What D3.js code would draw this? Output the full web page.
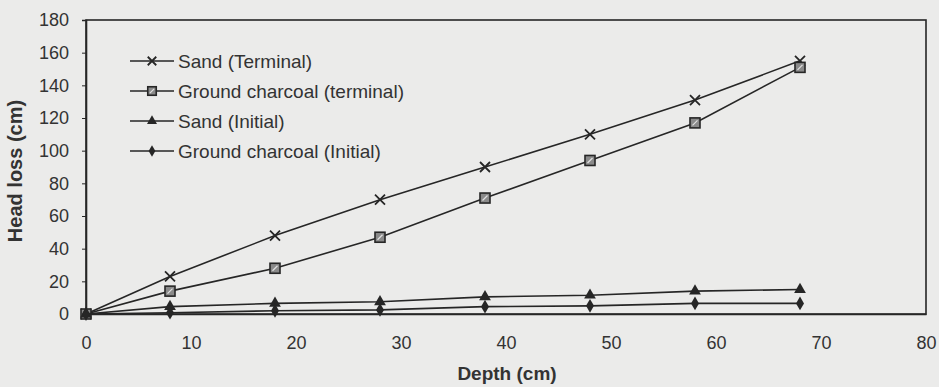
<!DOCTYPE html>
<html>
<head>
<meta charset="utf-8">
<script src="https://cdn.jsdelivr.net/npm/d3@7"></script>
<style>
  html, body { margin: 0; padding: 0; background: #ebebea; }
  svg { display: block; }
  text { font-family: "Liberation Sans", Arial, sans-serif; fill: #333; }
</style>
</head>
<body>
<svg id="chart" width="939" height="387"></svg>
<script>
// Depth of sampling points (cm)
const depths = [0, 8, 18, 28, 38, 48, 58, 68];

// Head loss (cm) per series
const sandTerminal     = [0, 23, 48, 70, 90, 110, 131, 155];
const charcoalTerminal = [0, 14, 28, 47, 71, 94, 117, 151];
const sandInitial      = [0, 4.5, 6.5, 7.5, 10.5, 11.5, 14, 15];
const charcoalInitial  = [0, 0.8, 2, 2.5, 4.5, 5, 6.5, 6.5];

const seriesNames = [
  "Sand (Terminal)",
  "Ground charcoal (terminal)",
  "Sand (Initial)",
  "Ground charcoal (Initial)"
];
const seriesValues = [sandTerminal, charcoalTerminal, sandInitial, charcoalInitial];
const seriesMarkers = ["cross", "square", "triangle", "diamond"];

const xTicks = [0, 10, 20, 30, 40, 50, 60, 70, 80];
const yTicks = [0, 20, 40, 60, 80, 100, 120, 140, 160, 180];

const svg = d3.select("#chart");
const plot = { left: 86, right: 926, top: 20, bottom: 314 };

const x = d3.scaleLinear().domain([0, 80]).range([plot.left, plot.right]);
const y = d3.scaleLinear().domain([0, 180]).range([plot.bottom, plot.top]);

const ink = "#262626";
const fontStack = "'Liberation Sans', Arial, sans-serif";

// Plot frame
svg.append("rect")
  .attr("x", plot.left).attr("y", plot.top)
  .attr("width", plot.right - plot.left).attr("height", plot.bottom - plot.top)
  .attr("fill", "none").attr("stroke", ink).attr("stroke-width", 1.6);

// Y axis
const yAxis = svg.append("g")
  .attr("transform", `translate(${plot.left},0)`)
  .call(d3.axisLeft(y).tickValues(yTicks).tickSize(4).tickPadding(13));
yAxis.select(".domain").attr("stroke", ink).attr("stroke-width", 1.6);
yAxis.selectAll(".tick line").attr("stroke", ink);
yAxis.selectAll(".tick text")
  .attr("font-size", 18).attr("fill", "#333")
  .style("font-family", fontStack);

// X axis
const xAxis = svg.append("g")
  .attr("transform", `translate(0,${plot.bottom})`)
  .call(d3.axisBottom(x).tickValues(xTicks).tickSize(0).tickPadding(22));
xAxis.select(".domain").attr("stroke", ink).attr("stroke-width", 1.6);
xAxis.selectAll(".tick text")
  .attr("font-size", 18).attr("fill", "#333")
  .style("font-family", fontStack);

// Axis titles
svg.append("text")
  .attr("x", 507).attr("y", 380)
  .attr("text-anchor", "middle").attr("font-size", 19).attr("font-weight", "bold")
  .attr("fill", "#333")
  .text("Depth (cm)");

svg.append("text")
  .attr("transform", "translate(22,171) rotate(-90)")
  .attr("text-anchor", "middle").attr("font-size", 20).attr("font-weight", "bold")
  .attr("fill", "#333")
  .text("Head loss (cm)");

// Marker drawing
function drawMarker(g, type, cx, cy, scale = 1) {
  if (type === "cross") {
    const s = 5 * scale;
    g.append("path")
      .attr("d", `M${cx - s},${cy - s}L${cx + s},${cy + s}M${cx - s},${cy + s}L${cx + s},${cy - s}`)
      .attr("stroke", ink).attr("stroke-width", 1.8).attr("fill", "none");
  } else if (type === "square") {
    const s = 5 * scale;
    g.append("rect")
      .attr("x", cx - s).attr("y", cy - s).attr("width", 2 * s).attr("height", 2 * s)
      .attr("fill", "#8a8a8a").attr("stroke", ink).attr("stroke-width", 1.6);
    g.append("path")
      .attr("d", `M${cx - s / 2},${cy + s / 2}L${cx + s / 2},${cy - s / 2}`)
      .attr("stroke", "#e0e0e0").attr("stroke-width", 1.2);
  } else if (type === "triangle") {
    g.append("path")
      .attr("d", d3.symbol().type(d3.symbolTriangle).size(60 * scale * scale)())
      .attr("transform", `translate(${cx},${cy})`)
      .attr("fill", ink);
  } else if (type === "diamond") {
    g.append("path")
      .attr("d", d3.symbol().type(d3.symbolDiamond).size(55 * scale * scale)())
      .attr("transform", `translate(${cx},${cy})`)
      .attr("fill", ink);
  }
}

const line = d3.line()
  .x(d => x(d[0]))
  .y(d => y(d[1]));

// Series lines and markers
seriesValues.forEach((vals, i) => {
  const pts = depths.map((d, j) => [d, vals[j]]);
  const g = svg.append("g");
  g.append("path")
    .datum(pts)
    .attr("d", line)
    .attr("fill", "none").attr("stroke", ink).attr("stroke-width", 1.6);
  pts.forEach(p => drawMarker(g, seriesMarkers[i], x(p[0]), y(p[1])));
});

// Legend
const legend = svg.append("g");
seriesNames.forEach((name, i) => {
  const ly = 61 + i * 30;
  legend.append("line")
    .attr("x1", 130).attr("x2", 174).attr("y1", ly).attr("y2", ly)
    .attr("stroke", ink).attr("stroke-width", 1.4);
  drawMarker(legend, seriesMarkers[i], 152, ly, 0.85);
  legend.append("text")
    .attr("x", 178).attr("y", ly + 7)
    .attr("font-size", 19).attr("fill", "#333")
    .text(name);
});
</script>
</body>
</html>
